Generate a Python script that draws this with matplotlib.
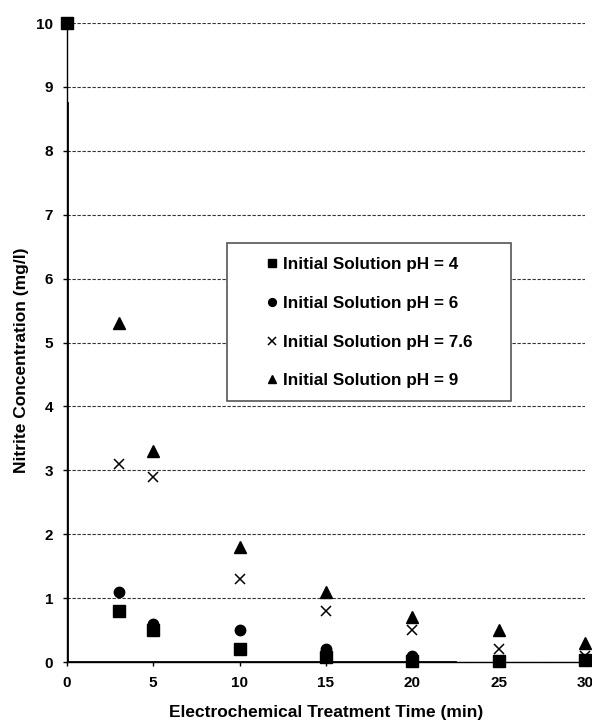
import matplotlib.pyplot as plt
from matplotlib.patches import Rectangle

plt.rcParams['font.family'] = ['Liberation Sans', 'DejaVu Sans']
plt.rcParams['font.weight'] = 'bold'

# data
t_ph4 = [0, 3, 5, 10, 15, 20, 25, 30]
c_ph4 = [10, 0.8, 0.5, 0.2, 0.08, 0.02, 0.02, 0.03]
t_ph6 = [3, 5, 10, 15, 20]
c_ph6 = [1.1, 0.6, 0.5, 0.2, 0.1]
t_ph76 = [3, 5, 10, 15, 20, 25, 30]
c_ph76 = [3.1, 2.9, 1.3, 0.8, 0.5, 0.2, 0.1]
t_ph9 = [3, 5, 10, 15, 20, 25, 30]
c_ph9 = [5.3, 3.3, 1.8, 1.1, 0.7, 0.5, 0.3]

x_ticks = [0, 5, 10, 15, 20, 25, 30]
y_ticks = list(range(0, 11))

fig = plt.figure(figsize=(5.92, 7.24), dpi=100)
ax = fig.add_axes([0.113, 0.0856, 0.875, 0.8826])

ax.plot(t_ph4, c_ph4, ls='none', marker='s', ms=8, color='black',
        label='Initial Solution pH = 4', clip_on=False, zorder=5)
ax.plot(t_ph6, c_ph6, ls='none', marker='o', ms=7.5, color='black',
        label='Initial Solution pH = 6', clip_on=False, zorder=4)
ax.plot(t_ph76, c_ph76, ls='none', marker='x', ms=7.5, mew=1.1, color='black',
        label='Initial Solution pH = 7.6', clip_on=False, zorder=4)
ax.plot(t_ph9, c_ph9, ls='none', marker='^', ms=8, color='black',
        label='Initial Solution pH = 9', clip_on=False, zorder=4)

ax.set_xlim(0, 30)
ax.set_ylim(0, 10)
ax.set_xticks(x_ticks)
ax.set_yticks(y_ticks)
ax.tick_params(labelsize=11, length=3, width=1, direction='out')
ax.tick_params(axis='x', pad=7)
ax.tick_params(axis='y', pad=7)

ax.grid(axis='y', ls=(0, (3, 1.5)), color='#333333', lw=0.8)
ax.set_axisbelow(True)
for s in ['top', 'right']:
    ax.spines[s].set_visible(False)
ax.spines['left'].set_linewidth(1)
ax.spines['bottom'].set_linewidth(1)
# heavier axis segments as in the scanned original
ax.axvline(0, ymax=0.875, color='black', lw=2, zorder=3)
ax.axhline(0, xmax=0.75, color='black', lw=2, zorder=3)

ax.set_xlabel('Electrochemical Treatment Time (min)', fontsize=12.5,
              fontweight='bold')
ax.set_ylabel('Nitrite Concentration (mg/l)', fontsize=12.5,
              fontweight='bold')
ax.xaxis.set_label_coords(0.5, -0.068)
ax.yaxis.set_label_coords(-0.074, 0.473)

# legend frame drawn separately so the entries sit centred inside it
ax.add_patch(Rectangle((0.309, 0.408), 0.548, 0.248, transform=ax.transAxes,
                       facecolor='white', edgecolor='#555555', lw=1.2, zorder=6))
leg = ax.legend(loc='center', bbox_to_anchor=(0.583, 0.531), fontsize=12.3,
                frameon=False, labelspacing=1.39, handlelength=0.7,
                handletextpad=0.3, borderpad=0, borderaxespad=0,
                markerscale=0.75)
leg.set_zorder(7)

fig.savefig('out.png', dpi=100)
